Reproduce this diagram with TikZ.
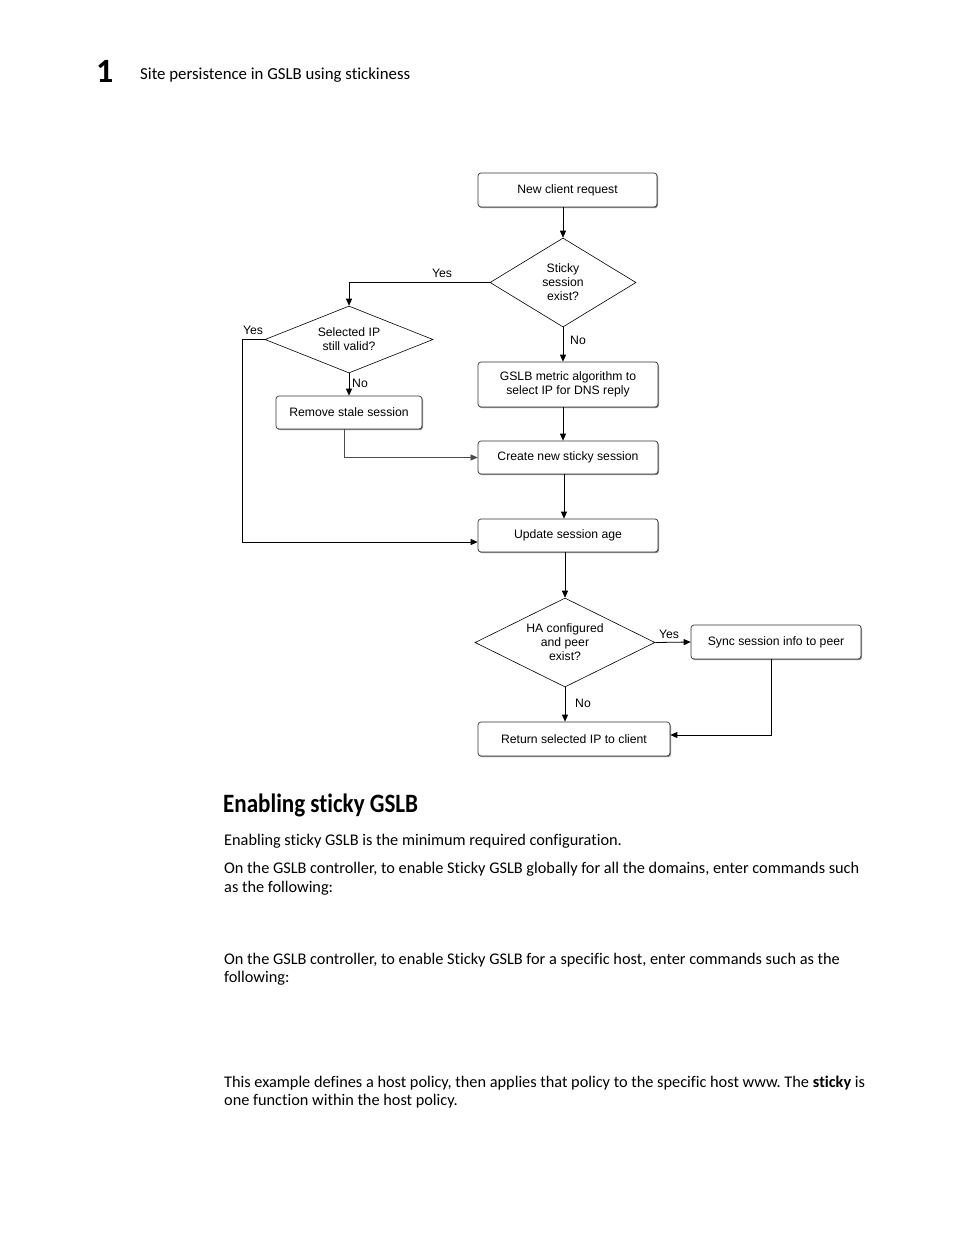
\documentclass[tikz,border=0pt]{standalone}
\usepackage{fontspec}
\setmainfont{Carlito}[Ligatures={NoCommon}]
\newfontfamily\diagfont{Liberation Sans}
\usetikzlibrary{shapes.geometric,arrows.meta,shadows}
\frenchspacing

\tikzset{
  caja/.style={draw=black!80, rounded corners=3pt, line width=0.7pt, fill=white,
    drop shadow={shadow xshift=1pt, shadow yshift=-1.2pt, fill=black!45, opacity=1},
    font=\diagfont\fontsize{12.2}{14}\selectfont, align=center, inner sep=0pt},
  rombo/.style={draw, diamond, aspect=2, line width=0.6pt, inner sep=0pt,
    font=\diagfont\fontsize{12.2}{14}\selectfont, align=center},
  flecha/.style={-{Triangle[length=7pt,width=6pt]}, line width=0.8pt},
  etiq/.style={font=\diagfont\fontsize{12.2}{14}\selectfont, inner sep=0pt},
  parrafo/.style={anchor=base west, inner sep=0pt, font=\fontsize{16.3}{19}\selectfont}
}

\begin{document}
\begin{tikzpicture}[x=1pt,y=-1pt]
  \fill[white] (0,0) rectangle (954,1235);
  \useasboundingbox (0,0) rectangle (954,1235);

  % Cabecera
  \node[anchor=base west, inner sep=0pt, font=\fontsize{34}{36}\selectfont\bfseries] (num) at (96,82) {1};
  \node[anchor=base west, inner sep=0pt, font=\fontsize{16.8}{19}\selectfont] (titulo) at (140,79) {Site persistence in GSLB using stickiness};

  % Cajas
  \node[caja, minimum width=179, minimum height=34] (nuevo) at (567.5,190) {New client request};
  \node[caja, minimum width=180, minimum height=45] (metrica) at (568,384.5) {GSLB metric algorithm to\\select IP for DNS reply};
  \node[caja, minimum width=146, minimum height=33] (borrar) at (349,412.5) {Remove stale session};
  \node[caja, minimum width=180, minimum height=33] (crear) at (568,457.5) {Create new sticky session};
  \node[caja, minimum width=180, minimum height=33] (edad) at (568,535.5) {Update session age};
  \node[caja, minimum width=170, minimum height=34] (sync) at (776,642) {Sync session info to peer};
  \node[caja, minimum width=192, minimum height=34] (volver) at (574,739) {Return selected IP to client};

  % Rombos
  \node[rombo, minimum width=146, minimum height=89] (sticky) at (563,282.5) {Sticky\\session\\exist?};
  \node[rombo, minimum width=168, minimum height=67] (valida) at (349,339.5) {Selected IP\\still valid?};
  \node[rombo, minimum width=180, minimum height=89] (ha) at (565,642.5) {HA configured\\and peer\\exist?};

  % Conectores
  \coordinate (codo) at (242,339.5);
  \draw[flecha] (sticky.north |- nuevo.south) -- (sticky.north);
  \draw[flecha] (sticky.west) -| (valida.north);
  \draw[flecha] (sticky.south) -- (sticky.south |- metrica.north);
  \draw[flecha] (valida.south) -- (borrar.north);
  \draw[flecha] (valida.west) -- (codo) |- ([yshift=-6.5pt]edad.west);
  \draw[flecha, line width=0.5pt, black!70] ([xshift=-5pt]borrar.south) |- (crear.west);
  \draw[flecha] (sticky.south |- metrica.south) -- (sticky.south |- crear.north);
  \draw[flecha] ([xshift=-4pt]crear.south) -- ([xshift=-4pt]edad.north);
  \draw[flecha] (ha.north |- edad.south) -- (ha.north);
  \draw[flecha] (ha.east) -- (sync.west);
  \draw[flecha] (ha.south) -- (ha.south |- volver.north);
  \draw[flecha] ([xshift=-5pt]sync.south) |- ([yshift=4pt]volver.east);

  % Etiquetas
  \node[etiq] (siA) at (442,273) {Yes};
  \node[etiq] (siB) at (253,330) {Yes};
  \node[etiq] (noA) at (360,383.5) {No};
  \node[etiq] (noB) at (578,340) {No};
  \node[etiq] (siC) at (669,634.5) {Yes};
  \node[etiq] (noC) at (583,703.5) {No};

  % Texto
  \node[anchor=base west, inner sep=0pt, font=\fontsize{26.5}{28}\selectfont\bfseries] (sec) at (223,812) {\scalebox{0.87}[1]{Enabling sticky GSLB}};
  \node[parrafo] (p1) at (224,845) {Enabling sticky GSLB is the minimum required configuration.};
  \node[parrafo] (p2) at (224,873) {On the GSLB controller, to enable Sticky GSLB globally for all the domains, enter commands such};
  \node[parrafo] (p3) at (224,892) {as the following:};
  \node[parrafo] (p4) at (224,964) {On the GSLB controller, to enable Sticky GSLB for a specific host, enter commands such as the};
  \node[parrafo] (p5) at (224,982) {following:};
  \node[parrafo] (p6) at (224,1087) {This example defines a host policy, then applies that policy to the specific host www. The \textbf{sticky} is};
  \node[parrafo] (p7) at (224,1105) {one function within the host policy.};
\end{tikzpicture}
\end{document}
